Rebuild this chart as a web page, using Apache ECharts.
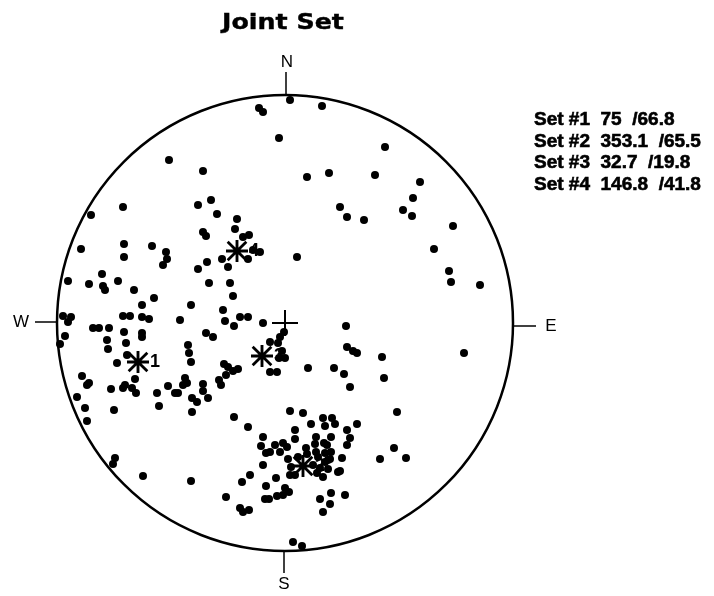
<!DOCTYPE html>
<html><head><meta charset="utf-8">
<script src="https://cdn.jsdelivr.net/npm/echarts@6/dist/echarts.min.js"></script>
<style>html,body{margin:0;padding:0;background:#fff}#c{width:714px;height:596px}</style>
</head><body><div id="c"></div>
<script>
// Stereonet plot units: circle radius = 228, origin at net centre, y up
const RADIUS = 228;
const titleText = 'Joint Set';
const dirLabels = ['N', 'E', 'S', 'W'];
const setIds = ['1', '2', '3', '4'];
const setDipDir = ['75', '353.1', '32.7', '146.8'];
const setDip = ['66.8', '65.5', '19.8', '41.8'];
const setCentres = [[-147, -39], [18, -143], [-23, -33], [-48, 72]];
const poles = [
 [5,223],[-26,215],[-22,211],[37,217],[-6,185],[100,176],[-116,163],[-82,152],[22,146],[44,150],
 [90,148],[135,141],[128,125],[-74,123],[-87,118],[-162,116],[55,116],[118,113],[127,107],[62,106],
 [79,103],[168,97],[-194,108],[-68,109],[-48,104],[-50,94],[-82,91],[-79,87],[-42,86],[-36,88],
 [-32,73],[-25,71],[-37,64],[-204,74],[-161,79],[-161,66],[-133,77],[-119,71],[-118,64],[-122,58],
 [-78,61],[-63,64],[-57,56],[-87,54],[-183,49],[-217,42],[-196,39],[-182,37],[-180,33],[-167,42],
 [-76,40],[-55,40],[-151,33],[-52,27],[-131,25],[-143,18],[-94,18],[-62,13],[-162,7],[-155,7],
 [-143,6],[-136,4],[-222,7],[-214,6],[-217,1],[-105,3],[-60,2],[-45,6],[-37,6],[-51,-3],
 [-22,0],[-192,-5],[-186,-5],[-176,-5],[12,66],[149,74],[164,52],[166,41],[195,38],[61,-3],
 [-220,-13],[-225,-21],[-178,-17],[-161,-9],[-159,-20],[-143,-10],[-143,-14],[-177,-26],[-158,-32],[-168,-40],
 [-79,-10],[-72,-14],[-97,-22],[-96,-30],[-94,-39],[-5,-14],[-7,-20],[-15,-19],[-1,-9],[-6,-35],
 [0,-35],[-15,-49],[-8,-49],[-61,-41],[-57,-44],[-47,-46],[-52,-48],[-59,-52],[-66,-57],[-64,-62],
 [-203,-53],[-198,-62],[-196,-60],[-174,-66],[-162,-65],[-160,-62],[-153,-65],[-149,-70],[-150,-56],[-128,-70],
 [-117,-63],[-110,-70],[-107,-70],[-100,-55],[-98,-60],[-102,-62],[-82,-61],[-82,-68],[-93,-75],[-88,-79],
 [-77,-75],[-208,-74],[-126,-83],[-200,-85],[-171,-87],[-93,-89],[-198,-98],[-51,-94],[-37,-104],[-22,-114],
 [5,-88],[62,-24],[68,-28],[72,-30],[97,-34],[179,-30],[23,-45],[49,-45],[59,-51],[99,-55],
 [65,-64],[112,-89],[18,-90],[38,-95],[47,-95],[50,-101],[26,-101],[40,-103],[72,-101],[10,-107],
 [62,-107],[31,-114],[46,-114],[65,-115],[10,-116],[62,-122],[-24,-123],[-19,-130],[-15,-129],[-10,-122],
 [-5,-129],[-2,-120],[2,-124],[21,-125],[30,-121],[40,-130],[46,-129],[-22,-142],[3,-136],[13,-134],
 [22,-131],[31,-129],[33,-134],[6,-144],[5,-152],[10,-152],[28,-142],[35,-145],[32,-150],[43,-137],
 [43,-146],[57,-135],[55,-148],[38,-154],[-35,-152],[-43,-159],[-19,-163],[-9,-155],[0,-165],[4,-169],
 [-2,-172],[-8,-173],[-20,-176],[-16,-176],[35,-176],[46,-170],[60,-172],[45,-181],[38,-189],[-45,-185],
 [-42,-189],[-36,-187],[-170,-135],[-172,-141],[-142,-153],[-94,-158],[-59,-174],[8,-219],[17,-223],[109,-125],
 [95,-136],[121,-135],[39,-120],[42,-122],[45,-136],[40,-139],[53,-149],[-3,-28]
];

const ASTER = 'path://M8.7 0H11.3V20H8.7Z M0 8.7H20V11.3H0Z M0.6 2.4L2.4 0.6L19.4 17.6L17.6 19.4Z M17.6 0.6L19.4 2.4L2.4 19.4L0.6 17.6Z';
const PLUS = 'path://M12 0H14V26H12Z M0 12H26V14H0Z';

const chart = echarts.init(document.getElementById('c'), null, {renderer: 'canvas'});
const option = {
  animation: false,
  backgroundColor: '#fff',
  grid: {left: 57, top: 95, width: 456, height: 456},
  xAxis: {type: 'value', min: -RADIUS, max: RADIUS, show: false},
  yAxis: {type: 'value', min: -RADIUS, max: RADIUS, show: false},
  series: [
    {type: 'scatter', data: poles, symbol: 'circle', symbolSize: 8,
     itemStyle: {color: '#000', opacity: 1}, z: 3},
    {type: 'scatter', data: setCentres.map((c, i) => ({value: c, name: setIds[i]})),
     symbol: ASTER, symbolSize: 22, itemStyle: {color: '#000', opacity: 1}, z: 4,
     label: {show: true, position: 'right', distance: 1, formatter: '{b}',
       color: '#000', fontWeight: 'bold', fontSize: 18, fontFamily: 'Liberation Sans'}},
    {type: 'scatter', data: [[0, 0]], symbol: PLUS, symbolSize: 26,
     itemStyle: {color: '#000', opacity: 1}, z: 4}
  ]
};
chart.setOption(option);

const c = chart.convertToPixel({gridIndex: 0}, [0, 0]);
const r = chart.convertToPixel({gridIndex: 0}, [RADIUS, 0])[0] - c[0];
const font = '17px "Liberation Sans"';
const g = [
  {type: 'circle', shape: {cx: c[0], cy: c[1], r: r}, style: {fill: 'none', stroke: '#000', lineWidth: 2.5}, z: 2},
  // N
  {type: 'line', shape: {x1: c[0] + 1, y1: c[1] - r, x2: c[0] + 1, y2: c[1] - r - 23}, style: {stroke: '#000', lineWidth: 1.5}},
  {type: 'text', x: c[0] + 2, y: c[1] - r - 33, style: {text: dirLabels[0], font: font, fill: '#000', textAlign: 'center', textVerticalAlign: 'middle', align: 'center', verticalAlign: 'middle'}},
  // E
  {type: 'line', shape: {x1: c[0] + r, y1: c[1] + 3, x2: c[0] + r + 23, y2: c[1] + 3}, style: {stroke: '#000', lineWidth: 1.5}},
  {type: 'text', x: c[0] + r + 38, y: c[1] + 3, style: {text: dirLabels[1], font: font, fill: '#000', textAlign: 'center', textVerticalAlign: 'middle', align: 'center', verticalAlign: 'middle'}},
  // S
  {type: 'line', shape: {x1: c[0] - 1, y1: c[1] + r, x2: c[0] - 1, y2: c[1] + r + 22}, style: {stroke: '#000', lineWidth: 1.5}},
  {type: 'text', x: c[0] - 1, y: c[1] + r + 33, style: {text: dirLabels[2], font: font, fill: '#000', textAlign: 'center', textVerticalAlign: 'middle', align: 'center', verticalAlign: 'middle'}},
  // W
  {type: 'line', shape: {x1: c[0] - r, y1: c[1] - 1, x2: c[0] - r - 22, y2: c[1] - 1}, style: {stroke: '#000', lineWidth: 1.5}},
  {type: 'text', x: c[0] - r - 36, y: c[1] - 1, style: {text: dirLabels[3], font: font, fill: '#000', textAlign: 'center', textVerticalAlign: 'middle', align: 'center', verticalAlign: 'middle'}},
  // title
  {type: 'text', x: 283, y: 23, scaleX: 1.15, style: {text: titleText, font: 'bold 22px "DejaVu Sans"', fill: '#000', stroke: '#000', lineWidth: 0.4, textAlign: 'center', textVerticalAlign: 'middle', align: 'center', verticalAlign: 'middle'}}
];
setIds.forEach((id, i) => {
  g.push({type: 'text', x: 534, y: 120 + i * 21.5,
    style: {text: 'Set #' + id + '  ' + setDipDir[i] + '  /' + setDip[i],
      font: 'bold 19px "Liberation Sans"', fill: '#000', stroke: '#000', lineWidth: 0.6,
      textAlign: 'left', textVerticalAlign: 'middle', align: 'left', verticalAlign: 'middle'}});
});
chart.setOption({graphic: {elements: g}});
</script>
</body></html>
